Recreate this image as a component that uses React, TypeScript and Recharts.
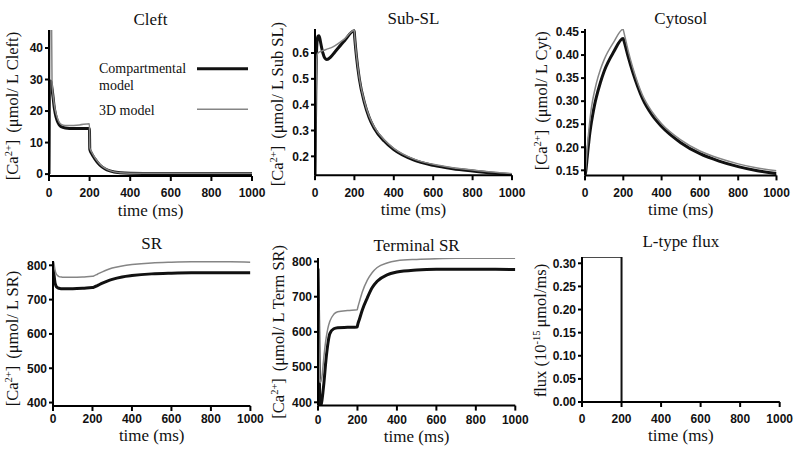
import React from "react";
import { LineChart, Line, XAxis, YAxis, Legend } from "recharts";

// sample times (ms) shared by the five concentration panels
const time = [
  0, 2, 4, 6, 8, 10, 12, 15, 20, 25, 30, 40, 50, 60, 80, 100, 150, 199, 201,
  210, 225, 250, 275, 300, 350, 400, 500, 600, 700, 800, 900, 1000,
];

const cleftComp = [
  0, 20, 28.5, 29.2, 29.5, 29.3, 28.5, 27, 24.5, 21.5, 19.5, 17, 15.7, 15,
  14.6, 14.5, 14.5, 14.5, 7.8, 6.5, 4.9, 2.9, 1.7, 1.0, 0.4, 0.25, 0.2, 0.2,
  0.2, 0.2, 0.2, 0.2,
];
const cleft3d = [
  0, 5, 40, 75, 85, 80, 55, 29, 25, 22.5, 20.5, 18, 16.5, 15.8, 15.4, 15.4,
  15.6, 16, 8.3, 7, 5.3, 3.2, 1.9, 1.1, 0.45, 0.3, 0.25, 0.25, 0.25, 0.25,
  0.25, 0.25,
];

const subSLComp = [
  0.127, 0.3, 0.45, 0.55, 0.61, 0.64, 0.655, 0.665, 0.667, 0.655, 0.635, 0.6,
  0.58, 0.575, 0.585, 0.603, 0.648, 0.686, 0.665, 0.59, 0.5, 0.41, 0.35, 0.31,
  0.26, 0.226, 0.186, 0.165, 0.152, 0.143, 0.135, 0.129,
];
const subSL3d = [
  0.127, 0.26, 0.4, 0.5, 0.56, 0.585, 0.596, 0.6, 0.603, 0.605, 0.607, 0.61,
  0.612, 0.615, 0.62, 0.628, 0.655, 0.688, 0.668, 0.595, 0.505, 0.415, 0.355,
  0.315, 0.265, 0.231, 0.19, 0.169, 0.156, 0.147, 0.139, 0.133,
];

const cytComp = [
  0.14, 0.143, 0.148, 0.155, 0.163, 0.172, 0.18, 0.193, 0.212, 0.23, 0.245,
  0.27, 0.292, 0.31, 0.34, 0.365, 0.407, 0.436, 0.434, 0.421, 0.397, 0.362,
  0.332, 0.306, 0.27, 0.245, 0.21, 0.186, 0.17, 0.158, 0.149, 0.143,
];
const cyt3d = [
  0.14, 0.146, 0.155, 0.166, 0.178, 0.19, 0.2, 0.215, 0.237, 0.257, 0.275,
  0.302, 0.322, 0.34, 0.368, 0.39, 0.428, 0.456, 0.453, 0.437, 0.41, 0.372,
  0.34, 0.313, 0.277, 0.251, 0.216, 0.192, 0.176, 0.164, 0.155, 0.149,
];

const srComp = [
  790, 786, 778, 768, 758, 750, 745, 740, 736, 734, 733, 732, 732, 732, 732,
  732, 733, 735, 735, 737, 741, 748, 754, 759, 766, 770, 775, 777, 778, 778,
  778, 778,
];
const sr3d = [
  810, 810, 808, 802, 794, 787, 782, 777, 772, 769, 767, 766, 765, 765, 765,
  765, 766, 768, 768, 770, 774, 781, 787, 792, 798, 802, 807, 809, 810, 810,
  810, 809,
];

const termComp = [
  780, 700, 600, 500, 430, 398, 390, 392, 405, 428, 455, 518, 566, 595, 609,
  612, 613, 614, 620, 636, 663, 697, 726, 744, 762, 770, 776, 778, 778, 778,
  778, 777,
];
const term3d = [
  810, 720, 600, 510, 470, 458, 456, 460, 472, 500, 530, 578, 610, 630, 650,
  657, 661, 663, 668, 686, 714, 747, 769, 783, 796, 802, 806, 808, 809, 809,
  809, 809,
];

const fluxTime = [0, 0, 200, 200, 1000];
const fluxValue = [0, 0.314, 0.314, 0, 0];

const timeTicks = [0, 200, 400, 600, 800, 1000];
const cleftTicks = [0, 10, 20, 30, 40];
const subSLTicks = [0.2, 0.3, 0.4, 0.5, 0.6];
const cytTicks = [0.15, 0.2, 0.25, 0.3, 0.35, 0.4, 0.45];
const srTicks = [400, 500, 600, 700, 800];
const fluxTicks = [0, 0.05, 0.1, 0.15, 0.2, 0.25, 0.3];

const serif = '"Liberation Serif", "Times New Roman", Times, serif';
const sans = '"Liberation Sans", Arial, Helvetica, sans-serif';

const COMP = "#111";
const D3 = "#858585";

const points = (t: number[], v: number[]) => t.map((x, i) => ({ t: x, v: v[i] }));

type Series = { name: string; t: number[]; v: number[]; color: string; width: number; curve: "monotone" | "linear" };

const twoModels = (comp: number[], d3: number[]): Series[] => [
  { name: "Compartmental model", t: time, v: comp, color: COMP, width: 3, curve: "monotone" },
  { name: "3D model", t: time, v: d3, color: D3, width: 1.5, curve: "monotone" },
];

const caLabel = (unit: string) => (
  <>
    <tspan>[Ca</tspan>
    <tspan fontSize={10.5} dy={-6}>2+</tspan>
    <tspan dy={6}>]</tspan>
    <tspan dx={7}>(μmol/ L {unit})</tspan>
  </>
);

const fluxLabel = (
  <>
    <tspan>flux (10</tspan>
    <tspan fontSize={10.5} dy={-6}>-15</tspan>
    <tspan dy={6} dx={3}>μmol/ms)</tspan>
  </>
);

function ModelLegend() {
  return (
    <svg width={160} height={66} style={{ display: "block" }}>
      <g fontFamily={serif} fontSize={14} fill="#111">
        <text x={0} y={18}>Compartmental</text>
        <text x={0} y={35}>model</text>
        <text x={0} y={60}>3D model</text>
      </g>
      <line x1={98} x2={149} y1={13.7} y2={13.7} stroke={COMP} strokeWidth={3} />
      <line x1={98} x2={149} y1={54.3} y2={54.3} stroke={D3} strokeWidth={1.5} />
    </svg>
  );
}

type PanelProps = {
  box: [number, number, number, number];
  yDomain: [number, number];
  yTicks: number[];
  decimals: number;
  title: string;
  titleY: number;
  yLabel: React.ReactNode;
  yLabelGap: number;
  yLabelShift: number;
  tickY: number;
  xLabelY: number;
  series: Series[];
  legend?: boolean;
};

const ML = 60;
const MT = 35;
const MR = 20;
const XH = 50;

function Panel(p: PanelProps) {
  const [l, t, r, b] = p.box;
  const w = r - l;
  const h = b - t;
  const ox = l - ML;
  const oy = t - MT;
  const axis = { stroke: "#000", strokeWidth: 2 };
  const tick = { fill: "#111", fontSize: 12, fontWeight: 700, fontFamily: sans };
  const lx = ML - p.yLabelGap + 5;
  const ly = MT + h / 2 + p.yLabelShift;
  return (
    <div style={{ position: "absolute", left: ox, top: oy }}>
      <LineChart width={w + ML + MR} height={h + MT + XH} margin={{ top: MT, right: MR, bottom: 0, left: 0 }}>
        <XAxis
          dataKey="t"
          type="number"
          domain={[0, 1000]}
          ticks={timeTicks}
          interval={0}
          allowDataOverflow
          height={XH}
          axisLine={axis}
          tickLine={axis}
          tickSize={5}
          tickMargin={p.tickY - b - 9.3}
          tick={tick}
        />
        <YAxis
          type="number"
          domain={p.yDomain}
          ticks={p.yTicks}
          interval={0}
          allowDataOverflow
          width={ML}
          axisLine={axis}
          tickLine={axis}
          tickSize={4}
          tickMargin={2}
          tick={tick}
          tickFormatter={(v: number) => v.toFixed(p.decimals)}
        />
        {p.series.map((s) => (
          <Line
            key={s.name}
            name={s.name}
            data={points(s.t, s.v)}
            dataKey="v"
            type={s.curve}
            stroke={s.color}
            strokeWidth={s.width}
            dot={false}
            activeDot={false}
            isAnimationActive={false}
          />
        ))}
        <text x={ML + w / 2} y={p.titleY - oy} textAnchor="middle" fontFamily={serif} fontSize={17} fill="#111">
          {p.title}
        </text>
        <text
          transform={`translate(${lx},${ly}) rotate(-90)`}
          textAnchor="middle"
          fontFamily={serif}
          fontSize={16.5}
          fill="#111"
        >
          {p.yLabel}
        </text>
        <text x={ML + w / 2} y={p.xLabelY - oy} textAnchor="middle" fontFamily={serif} fontSize={17} fill="#111">
          time (ms)
        </text>
        {p.legend && (
          <Legend
            layout="horizontal"
            verticalAlign="middle"
            align="center"
            content={() => <ModelLegend />}
            wrapperStyle={{ left: 99 - ox, top: 55 - oy, width: 160, height: 66 }}
          />
        )}
      </LineChart>
    </div>
  );
}

export default function App() {
  return (
    <div style={{ position: "absolute", left: 0, top: 0, width: 800, height: 452, background: "#fff", fontFamily: serif }}>
      <Panel
        box={[49, 30, 252, 176]}
        yDomain={[-0.6, 45.7]}
        yTicks={cleftTicks}
        decimals={0}
        title="Cleft"
        titleY={24.5}
        yLabel={caLabel("Cleft")}
        yLabelGap={36}
        yLabelShift={3}
        tickY={193}
        xLabelY={215.5}
        series={twoModels(cleftComp, cleft3d)}
        legend
      />
      <Panel
        box={[315, 29.3, 512, 175.5]}
        yDomain={[0.127, 0.693]}
        yTicks={subSLTicks}
        decimals={1}
        title="Sub-SL"
        titleY={24.5}
        yLabel={caLabel("Sub SL")}
        yLabelGap={37}
        yLabelShift={2}
        tickY={193}
        xLabelY={215.5}
        series={twoModels(subSLComp, subSL3d)}
      />
      <Panel
        box={[584.5, 29.3, 776, 175.7]}
        yDomain={[0.139, 0.4565]}
        yTicks={cytTicks}
        decimals={2}
        title="Cytosol"
        titleY={24.5}
        yLabel={caLabel("Cyt")}
        yLabelGap={42.6}
        yLabelShift={-1.5}
        tickY={193}
        xLabelY={215.5}
        series={twoModels(cytComp, cyt3d)}
      />
      <Panel
        box={[53.3, 261, 250.7, 406]}
        yDomain={[390, 812.5]}
        yTicks={srTicks}
        decimals={0}
        title="SR"
        titleY={249}
        yLabel={caLabel("SR")}
        yLabelGap={40}
        yLabelShift={5}
        tickY={419}
        xLabelY={441.5}
        series={twoModels(srComp, sr3d)}
      />
      <Panel
        box={[317.7, 257.7, 515, 405.3]}
        yDomain={[390.6, 810]}
        yTicks={srTicks}
        decimals={0}
        title="Terminal SR"
        titleY={251}
        yLabel={caLabel("Term SR")}
        yLabelGap={39.4}
        yLabelShift={0}
        tickY={419}
        xLabelY={441.5}
        series={twoModels(termComp, term3d)}
      />
      <Panel
        box={[582.3, 257, 780, 402]}
        yDomain={[0, 0.3136]}
        yTicks={fluxTicks}
        decimals={2}
        title="L-type flux"
        titleY={247}
        yLabel={fluxLabel}
        yLabelGap={40.6}
        yLabelShift={1}
        tickY={419}
        xLabelY={441.5}
        series={[{ name: "L-type flux", t: fluxTime, v: fluxValue, color: COMP, width: 2, curve: "linear" }]}
      />
    </div>
  );
}
